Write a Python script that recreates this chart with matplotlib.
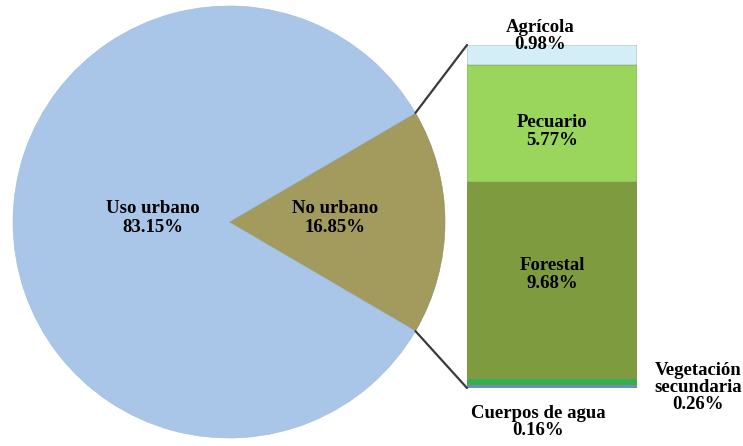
import matplotlib.pyplot as plt
from matplotlib.patches import ConnectionPatch
import numpy as np

# pie: uso del suelo
pie_labels = ['No urbano', 'Uso urbano']
pie_values = [16.85, 83.15]
pie_colors = ['#A39A5E', '#A9C5E8']

# bar: desglose de "No urbano" (de abajo hacia arriba)
bar_labels = ['Cuerpos de agua', 'Vegetación\nsecundaria', 'Forestal', 'Pecuario', 'Agrícola']
bar_values = [0.16, 0.26, 9.68, 5.77, 0.98]
bar_colors = ['#6E8EC0', '#2EB24C', '#7F9B3F', '#9AD65C', '#D3EEF6']

plt.rcParams['font.family'] = ['Liberation Serif', 'DejaVu Serif']
fig = plt.figure(figsize=(7.43, 4.46), dpi=100)

# pie axes in pixel coordinates
ax = fig.add_axes([0, 0, 1, 1])
cx, cy, r = 229, 224, 216
half = pie_values[0] / 100 * 180
wedges, _ = ax.pie(pie_values, colors=pie_colors, startangle=-half,
                   center=(cx, cy), radius=r,
                   wedgeprops=dict(edgecolor='#8A8A6A', linewidth=0.4))
wedges[1].set_edgecolor('#9FB8D8')
ax.set_xlim(0, 743)
ax.set_ylim(0, 446)
ax.set_aspect('equal')
ax.axis('off')

fs = 13.5
ax.text(153, 446 - 218, 'Uso urbano\n83.15%', ha='center', va='center',
        fontsize=fs, fontweight='bold', linespacing=1.1)
ax.text(335, 446 - 218, 'No urbano\n16.85%', ha='center', va='center',
        fontsize=fs, fontweight='bold', linespacing=1.1)

# bar axes
bx = fig.add_axes([467 / 743, 58 / 446, 170 / 743, 343 / 446])
bottom = 0
for lab, v, c in zip(bar_labels, bar_values, bar_colors):
    bx.bar(0.5, v, width=1, bottom=bottom, color=c, edgecolor='#7F8F70', linewidth=0.3)
    bottom += v
bx.set_xlim(0, 1)
bx.set_ylim(0, sum(bar_values))
bx.axis('off')

total = sum(bar_values)
bx.text(0.5, 0.42 + 9.68 / 2 + 0.3, 'Forestal\n9.68%', ha='center', va='center',
        fontsize=fs, fontweight='bold', linespacing=1.1)
bx.text(0.5, 0.42 + 9.68 + 5.77 / 2 - 0.4, 'Pecuario\n5.77%', ha='center', va='center',
        fontsize=fs, fontweight='bold', linespacing=1.1)
bx.text(0.43, total + 0.45, 'Agrícola\n0.98%', ha='center', va='center',
        fontsize=fs, fontweight='bold', linespacing=1.0, clip_on=False)
bx.text(1.36, 1.3, 'Vegetación\nsecundaria\n0.26%', ha='center', va='top',
        fontsize=fs, fontweight='bold', linespacing=1.0, clip_on=False)
bx.text(0.42, -0.85, 'Cuerpos de agua\n0.16%', ha='center', va='top',
        fontsize=fs, fontweight='bold', linespacing=1.0, clip_on=False)

# connector lines
for sgn, yb in [(1, total), (-1, 0)]:
    px = cx + r * np.cos(np.radians(half))
    py = cy + sgn * r * np.sin(np.radians(half))
    con = ConnectionPatch(xyA=(px, py), coordsA=ax.transData,
                          xyB=(0, yb), coordsB=bx.transData,
                          color='#3A3A3A', linewidth=1.6)
    fig.add_artist(con)

plt.savefig('out.png', dpi=100)
